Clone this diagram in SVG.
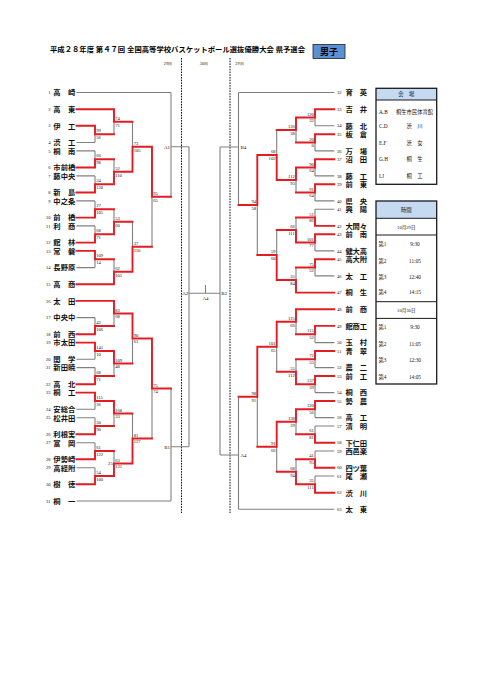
<svg xmlns="http://www.w3.org/2000/svg" width="481" height="680" viewBox="0 0 481 680">
<style>
.g{stroke:#808080;stroke-width:1.1;fill:none}
.r{stroke:#e31b23;stroke-width:1.9;fill:none;stroke-linecap:square}
.d{stroke:#111;stroke-width:1;stroke-dasharray:1.6 1.1;fill:none}
.s{font-family:"Liberation Serif",serif;font-size:4.6px;fill:#111}
.se{font-family:"Liberation Serif",serif;font-size:4.6px;fill:#111;text-anchor:end}
.nm{font-family:"Liberation Serif","Noto Sans CJK JP",serif;font-size:7.3px;font-weight:bold;fill:#111}
.lb{font-family:"Liberation Serif",serif;font-size:5px;fill:#111}
.tb{font-family:"Liberation Serif","Noto Sans CJK JP",serif;font-size:5.3px;fill:#111}
.tbm{font-family:"Liberation Serif","Noto Sans CJK JP",serif;font-size:5.3px;fill:#111;text-anchor:middle}
</style>
<rect width="481" height="680" fill="#fff"/>
<g id="title">
<text x="50" y="51.5" textLength="255" lengthAdjust="spacingAndGlyphs" style="font-family:'Liberation Serif','Noto Sans CJK JP',serif;font-size:7.2px;font-weight:bold">平成２８年度 第４７回 全国高等学校バスケットボール選抜優勝大会 県予選会</text>
<rect x="313" y="44.5" width="32" height="14" fill="#5b8fd6" stroke="#222" stroke-width="0.8"/>
<text x="329" y="55" text-anchor="middle" style="font-family:'Liberation Serif','Noto Sans CJK JP',serif;font-size:9px;font-weight:bold">男子</text>
<text x="168" y="65" text-anchor="middle" class="s" style="font-size:4.3px">29日</text>
<text x="204" y="65" text-anchor="middle" class="s" style="font-size:4.3px">30日</text>
<text x="239.5" y="65" text-anchor="middle" class="s" style="font-size:4.3px">29日</text>
</g>
<g id="dividers">
<path class="d" d="M181.5 58V513M230 58V513"/>
</g>
<g id="connectors">
<path class="g" d="M76.5 92.5H171M76.5 142.5H95M76.5 150.9H95M76.5 175.9H95M76.5 200.9H95M76.5 225.9H95M76.5 267.6H95M76.5 317.6H95M76.5 359.3H95M76.5 367.6H95M76.5 409.3H95M76.5 417.7H95M76.5 442.7H95M76.5 467.7H95M76.5 501H171
M95 134.2V142.5M95 150.9V159.2M95 175.9V184.2M95 200.9V209.3M95 225.9V234.3M95 259.3V267.6M95 317.6V326M95 351V359.3M95 367.6V376M95 401V409.3M95 417.7V426M95 442.7V451M95 467.7V476
M114 121.7V134.2M114 159.2V171.7M114 209.3V221.8M114 259.3V271.8M114 313.5V326M114 363.5V376M114 413.5V426M114 451V463.5
M132.5 121.7V146.7M132.5 221.8V246.8M132.5 338.5V363.5M132.5 413.5V438.5
M152 196.7V246.8M152 388.5V438.5
M171 92.5V196.7M171 146.7H189M171 388.5V501M171 446.7H189M189 146.7V446.7M189 293.3H220M205.5 285V293.3"/>
<path class="g" d="M334.3 92.5H238.5M334.3 125.8H315M334.3 150.9H315M334.3 175.9H315M334.3 200.9H315M334.3 209.2H315M334.3 250.9H315M334.3 275.9H315M334.3 342.6H315M334.3 367.6H315M334.3 392.6H315M334.3 417.6H315M334.3 426H315M334.3 451H315M334.3 476H315M334.3 509.3H238.5
M315 117.5V125.8M315 142.5V150.9M315 167.5V175.9M315 192.5V200.9M315 209.2V217.5M315 242.5V250.9M315 267.5V275.9M315 334.2V342.6M315 359.3V367.6M315 384.3V392.6M315 409.3V417.6M315 426V434.3M315 451V459.3M315 476V484.3
M296 130V142.5M296 180V192.5M296 217.5V230M296 267.5V280M296 321.8V334.2M296 359.3V371.8M296 421.8V434.3M296 459.3V471.8
M276.7 130V155M276.7 230V255M276.7 346.8V371.8M276.7 446.8V471.8
M257.3 205V255M257.3 396.8V446.8
M238.5 92.5V205M238.5 147H220M238.5 396.8V509.3M238.5 455H220M220 147V455"/>
<path class="r" d="M76.5 109.2H114V121.7H132.5M76.5 125.8H95V134.2H114M76.5 167.5H95V159.2H114M76.5 192.5H95V184.2H114M114 184.2V171.7H132.5M132.5 171.7V146.7H152M152 146.7V196.7H171
M76.5 217.6H95V209.3H114M76.5 242.6H95V234.3H114M114 234.3V221.8H132.5M76.5 250.9H95V259.3H114M76.5 284.3H114V271.8H132.5M132.5 271.8V246.8H152
M76.5 300.9H114V313.5H132.5M76.5 334.3H95V326H114M76.5 342.6H95V351H114M76.5 384.3H95V376H114M114 351V363.5H132.5M132.5 313.5V338.5H152M152 338.5V388.5H171
M76.5 392.6H95V401H114M76.5 434.3H95V426H114M114 401V413.5H132.5M76.5 459.3H95V451H114M76.5 484.3H95V476H114M114 476V463.5H132.5M132.5 463.5V438.5H152"/>
<path class="r" d="M334.3 109.2H315V117.5H296M334.3 134.2H315V142.5H296M296 117.5V130H276.7M334.3 159.2H315V167.5H296M334.3 184.2H315V192.5H296M296 167.5V180H276.7M276.7 180V155H257.3M257.3 155V205H238.5
M334.3 225.9H315V217.5H296M334.3 234.2H315V242.5H296M296 242.5V230H276.7M334.3 259.2H315V267.5H296M334.3 292.6H296V280H276.7M276.7 280V255H257.3
M334.3 309.3H296V321.8H276.7M334.3 325.9H315V334.2H296M334.3 351H315V359.3H296M334.3 376H315V384.3H296M296 384.3V371.8H276.7M276.7 321.8V346.8H257.3M257.3 346.8V396.8H238.5
M334.3 401H315V409.3H296M334.3 442.7H315V434.3H296M296 409.3V421.8H276.7M334.3 467.7H315V459.3H296M334.3 492.7H315V484.3H296M296 484.3V471.8H276.7M276.7 421.8V446.8H257.3"/>
</g>
<g id="game-labels">
<text class="lb" x="170" y="148.5" text-anchor="end">A1</text>
<text class="lb" x="170" y="448.5" text-anchor="end">B1</text>
<text class="lb" x="188.3" y="295" text-anchor="end">A2</text>
<text class="lb" x="221.3" y="295">B2</text>
<text class="lb" x="205.5" y="299.5" text-anchor="middle">A4</text>
<text class="lb" x="240.5" y="148.8">B4</text>
<text class="lb" x="240.5" y="456.8">A4</text>
<text class="se" x="112.7" y="465">25</text>
</g>
<g id="scores-left">
<text class="s" x="96.2" y="132.3">99</text><text class="s" x="96.2" y="139">56</text>
<text class="s" x="96.2" y="157.3">66</text><text class="s" x="96.2" y="164">98</text>
<text class="s" x="96.2" y="182.3">34</text><text class="s" x="96.2" y="189">120</text>
<text class="s" x="96.2" y="207.4">27</text><text class="s" x="96.2" y="214.1">105</text>
<text class="s" x="96.2" y="232.4">68</text><text class="s" x="96.2" y="239.1">71</text>
<text class="s" x="96.2" y="257.4">109</text><text class="s" x="96.2" y="264.1">14</text>
<text class="s" x="96.2" y="324.1">42</text><text class="s" x="96.2" y="330.8">106</text>
<text class="s" x="96.2" y="349.1">141</text><text class="s" x="96.2" y="355.8">10</text>
<text class="s" x="96.2" y="374.1">68</text><text class="s" x="96.2" y="380.8">71</text>
<text class="s" x="96.2" y="399.1">115</text><text class="s" x="96.2" y="405.8">36</text>
<text class="s" x="96.2" y="424.1">50</text><text class="s" x="96.2" y="430.8">90</text>
<text class="s" x="96.2" y="449.1">61</text><text class="s" x="96.2" y="455.8">122</text>
<text class="s" x="96.2" y="474.1">54</text><text class="s" x="96.2" y="480.8">100</text>
<text class="s" x="115.2" y="119.8">74</text><text class="s" x="115.2" y="126.5">71</text>
<text class="s" x="115.2" y="169.8">52</text><text class="s" x="115.2" y="176.5">110</text>
<text class="s" x="115.2" y="219.9">53</text><text class="s" x="115.2" y="226.6">60</text>
<text class="s" x="115.2" y="269.9">62</text><text class="s" x="115.2" y="276.6">101</text>
<text class="s" x="115.2" y="311.6">83</text><text class="s" x="115.2" y="318.3">68</text>
<text class="s" x="115.2" y="361.6">109</text><text class="s" x="115.2" y="368.3">48</text>
<text class="s" x="115.2" y="411.6">168</text><text class="s" x="115.2" y="418.3">33</text>
<text class="s" x="115.2" y="461.6">63</text><text class="s" x="115.2" y="468.3">131</text>
<text class="s" x="133.7" y="144.8">73</text><text class="s" x="133.7" y="151.5">105</text>
<text class="s" x="133.7" y="244.9">37</text><text class="s" x="133.7" y="251.6">110</text>
<text class="s" x="133.7" y="336.6">90</text><text class="s" x="133.7" y="343.3">61</text>
<text class="s" x="133.7" y="436.6">81</text><text class="s" x="133.7" y="443.3">127</text>
<text class="s" x="153.2" y="194.8">95</text><text class="s" x="153.2" y="201.5">65</text>
<text class="s" x="153.2" y="386.6">75</text><text class="s" x="153.2" y="393.3">74</text>
</g>
<g id="scores-right">
<text class="se" x="313.8" y="115.6">120</text><text class="se" x="313.8" y="122.3">32</text>
<text class="se" x="313.8" y="140.6">20</text><text class="se" x="313.8" y="147.3">0</text>
<text class="se" x="313.8" y="165.6">90</text><text class="se" x="313.8" y="172.3">64</text>
<text class="se" x="313.8" y="190.6">91</text><text class="se" x="313.8" y="197.3">64</text>
<text class="se" x="313.8" y="215.6">51</text><text class="se" x="313.8" y="222.3">86</text>
<text class="se" x="313.8" y="240.6">101</text><text class="se" x="313.8" y="247.3">77</text>
<text class="se" x="313.8" y="265.6">75</text><text class="se" x="313.8" y="272.3">52</text>
<text class="se" x="313.8" y="332.3">115</text><text class="se" x="313.8" y="339">52</text>
<text class="se" x="313.8" y="357.4">72</text><text class="se" x="313.8" y="364.1">55</text>
<text class="se" x="313.8" y="382.4">137</text><text class="se" x="313.8" y="389.1">39</text>
<text class="se" x="313.8" y="407.4">120</text><text class="se" x="313.8" y="414.1">56</text>
<text class="se" x="313.8" y="432.4">61</text><text class="se" x="313.8" y="439.1">81</text>
<text class="se" x="313.8" y="457.4">41</text><text class="se" x="313.8" y="464.1">95</text>
<text class="se" x="313.8" y="482.4">35</text><text class="se" x="313.8" y="489.1">111</text>
<text class="se" x="294.8" y="128.1">136</text><text class="se" x="294.8" y="134.8">38</text>
<text class="se" x="294.8" y="178.1">112</text><text class="se" x="294.8" y="184.8">93</text>
<text class="se" x="294.8" y="228.1">66</text><text class="se" x="294.8" y="234.8">111</text>
<text class="se" x="294.8" y="278.1">35</text><text class="se" x="294.8" y="284.8">84</text>
<text class="se" x="294.8" y="319.9">125</text><text class="se" x="294.8" y="326.6">66</text>
<text class="se" x="294.8" y="369.9">55</text><text class="se" x="294.8" y="376.6">112</text>
<text class="se" x="294.8" y="419.9">138</text><text class="se" x="294.8" y="426.6">29</text>
<text class="se" x="294.8" y="469.9">68</text><text class="se" x="294.8" y="476.6">94</text>
<text class="se" x="275.5" y="153.1">68</text><text class="se" x="275.5" y="159.8">102</text>
<text class="se" x="275.5" y="253.1">59</text><text class="se" x="275.5" y="259.8">60</text>
<text class="se" x="275.5" y="344.9">101</text><text class="se" x="275.5" y="351.6">65</text>
<text class="se" x="275.5" y="444.9">91</text><text class="se" x="275.5" y="451.6">66</text>
<text class="se" x="256.1" y="203.1">94</text><text class="se" x="256.1" y="209.8">58</text>
<text class="se" x="256.1" y="394.9">98</text><text class="se" x="256.1" y="401.6">91</text>
</g>
<g id="teams-left">
<g id="t1"><text class="se" x="50.5" y="94.1">1</text><text class="nm" x="53.3" y="95.3" textLength="22" lengthAdjust="spacing">高　崎</text></g>
<g id="t2"><text class="se" x="50.5" y="110.8">2</text><text class="nm" x="53.3" y="112" textLength="22" lengthAdjust="spacing">高　東</text></g>
<g id="t3"><text class="se" x="50.5" y="127.4">3</text><text class="nm" x="53.3" y="128.6" textLength="22" lengthAdjust="spacing">伊　工</text></g>
<g id="t4"><text class="se" x="50.5" y="144.1">4</text><text class="nm" x="53.3" y="145.3" textLength="22" lengthAdjust="spacing">渋　工</text></g>
<g id="t5"><text class="se" x="50.5" y="152.5">5</text><text class="nm" x="53.3" y="153.7" textLength="22" lengthAdjust="spacing">桐　南</text></g>
<g id="t6"><text class="se" x="50.5" y="169.1">6</text><text class="nm" x="53.3" y="170.3" textLength="22" lengthAdjust="spacing">市前橋</text></g>
<g id="t7"><text class="se" x="50.5" y="177.5">7</text><text class="nm" x="53.3" y="178.7" textLength="22" lengthAdjust="spacing">藤中央</text></g>
<g id="t8"><text class="se" x="50.5" y="194.1">8</text><text class="nm" x="53.3" y="195.3" textLength="22" lengthAdjust="spacing">新　島</text></g>
<g id="t9"><text class="se" x="50.5" y="202.5">9</text><text class="nm" x="53.3" y="203.7" textLength="22" lengthAdjust="spacing">中之条</text></g>
<g id="t10"><text class="se" x="50.5" y="219.2">10</text><text class="nm" x="53.3" y="220.4" textLength="22" lengthAdjust="spacing">前　橋</text></g>
<g id="t11"><text class="se" x="50.5" y="227.5">11</text><text class="nm" x="53.3" y="228.7" textLength="22" lengthAdjust="spacing">利　商</text></g>
<g id="t12"><text class="se" x="50.5" y="244.2">12</text><text class="nm" x="53.3" y="245.4" textLength="22" lengthAdjust="spacing">館　林</text></g>
<g id="t13"><text class="se" x="50.5" y="252.5">13</text><text class="nm" x="53.3" y="253.7" textLength="22" lengthAdjust="spacing">常　磐</text></g>
<g id="t14"><text class="se" x="50.5" y="269.2">14</text><text class="nm" x="53.3" y="270.4" textLength="22" lengthAdjust="spacing">長野原</text></g>
<g id="t15"><text class="se" x="50.5" y="285.9">15</text><text class="nm" x="53.3" y="287.1" textLength="22" lengthAdjust="spacing">高　商</text></g>
<g id="t16"><text class="se" x="50.5" y="302.5">16</text><text class="nm" x="53.3" y="303.7" textLength="22" lengthAdjust="spacing">太　田</text></g>
<g id="t17"><text class="se" x="50.5" y="319.2">17</text><text class="nm" x="53.3" y="320.4" textLength="22" lengthAdjust="spacing">中央中</text></g>
<g id="t18"><text class="se" x="50.5" y="335.9">18</text><text class="nm" x="53.3" y="337.1" textLength="22" lengthAdjust="spacing">前　西</text></g>
<g id="t19"><text class="se" x="50.5" y="344.2">19</text><text class="nm" x="53.3" y="345.4" textLength="22" lengthAdjust="spacing">市太田</text></g>
<g id="t20"><text class="se" x="50.5" y="360.9">20</text><text class="nm" x="53.3" y="362.1" textLength="22" lengthAdjust="spacing">関　学</text></g>
<g id="t21"><text class="se" x="50.5" y="369.2">21</text><text class="nm" x="53.3" y="370.4" textLength="22" lengthAdjust="spacing">新田暁</text></g>
<g id="t22"><text class="se" x="50.5" y="385.9">22</text><text class="nm" x="53.3" y="387.1" textLength="22" lengthAdjust="spacing">高　北</text></g>
<g id="t23"><text class="se" x="50.5" y="394.2">23</text><text class="nm" x="53.3" y="395.4" textLength="22" lengthAdjust="spacing">桐　工</text></g>
<g id="t24"><text class="se" x="50.5" y="410.9">24</text><text class="nm" x="53.3" y="412.1" textLength="22" lengthAdjust="spacing">安総合</text></g>
<g id="t25"><text class="se" x="50.5" y="419.3">25</text><text class="nm" x="53.3" y="420.5" textLength="22" lengthAdjust="spacing">松井田</text></g>
<g id="t26"><text class="se" x="50.5" y="435.9">26</text><text class="nm" x="53.3" y="437.1" textLength="22" lengthAdjust="spacing">利根実</text></g>
<g id="t27"><text class="se" x="50.5" y="444.3">27</text><text class="nm" x="53.3" y="445.5" textLength="22" lengthAdjust="spacing">富　岡</text></g>
<g id="t28"><text class="se" x="50.5" y="460.9">28</text><text class="nm" x="53.3" y="462.1" textLength="22" lengthAdjust="spacing">伊勢崎</text></g>
<g id="t29"><text class="se" x="50.5" y="469.3">29</text><text class="nm" x="53.3" y="470.5" textLength="22" lengthAdjust="spacing">高経附</text></g>
<g id="t30"><text class="se" x="50.5" y="485.9">30</text><text class="nm" x="53.3" y="487.1" textLength="22" lengthAdjust="spacing">樹　徳</text></g>
<g id="t31"><text class="se" x="50.5" y="502.6">31</text><text class="nm" x="53.3" y="503.8" textLength="22" lengthAdjust="spacing">桐　一</text></g>
</g>
<g id="teams-right">
<g id="t32"><text class="s" x="337" y="94.1">32</text><text class="nm" x="345.5" y="95.3" textLength="21.5" lengthAdjust="spacing">育　英</text></g>
<g id="t33"><text class="s" x="337" y="110.8">33</text><text class="nm" x="345.5" y="112" textLength="21.5" lengthAdjust="spacing">吉　井</text></g>
<g id="t34"><text class="s" x="337" y="127.4">34</text><text class="nm" x="345.5" y="128.6" textLength="21.5" lengthAdjust="spacing">藤　北</text></g>
<g id="t35"><text class="s" x="337" y="135.8">35</text><text class="nm" x="345.5" y="137" textLength="21.5" lengthAdjust="spacing">板　倉</text></g>
<g id="t36"><text class="s" x="337" y="152.5">36</text><text class="nm" x="345.5" y="153.7" textLength="21.5" lengthAdjust="spacing">万　場</text></g>
<g id="t37"><text class="s" x="337" y="160.8">37</text><text class="nm" x="345.5" y="162" textLength="21.5" lengthAdjust="spacing">沼　田</text></g>
<g id="t38"><text class="s" x="337" y="177.5">38</text><text class="nm" x="345.5" y="178.7" textLength="21.5" lengthAdjust="spacing">藤　工</text></g>
<g id="t39"><text class="s" x="337" y="185.8">39</text><text class="nm" x="345.5" y="187" textLength="21.5" lengthAdjust="spacing">前　東</text></g>
<g id="t40"><text class="s" x="337" y="202.5">40</text><text class="nm" x="345.5" y="203.7" textLength="21.5" lengthAdjust="spacing">県　央</text></g>
<g id="t41"><text class="s" x="337" y="210.8">41</text><text class="nm" x="345.5" y="212" textLength="21.5" lengthAdjust="spacing">興　陽</text></g>
<g id="t42"><text class="s" x="337" y="227.5">42</text><text class="nm" x="345.5" y="228.7" textLength="21.5" lengthAdjust="spacing">大間々</text></g>
<g id="t43"><text class="s" x="337" y="235.8">43</text><text class="nm" x="345.5" y="237" textLength="21.5" lengthAdjust="spacing">前　南</text></g>
<g id="t44"><text class="s" x="337" y="252.5">44</text><text class="nm" x="345.5" y="253.7" textLength="21.5" lengthAdjust="spacing">健大高</text></g>
<g id="t45"><text class="s" x="337" y="260.8">45</text><text class="nm" x="345.5" y="262" textLength="21.5" lengthAdjust="spacing">高大附</text></g>
<g id="t46"><text class="s" x="337" y="277.5">46</text><text class="nm" x="345.5" y="278.7" textLength="21.5" lengthAdjust="spacing">太　工</text></g>
<g id="t47"><text class="s" x="337" y="294.2">47</text><text class="nm" x="345.5" y="295.4" textLength="21.5" lengthAdjust="spacing">桐　生</text></g>
<g id="t48"><text class="s" x="337" y="310.9">48</text><text class="nm" x="345.5" y="312.1" textLength="21.5" lengthAdjust="spacing">前　商</text></g>
<g id="t49"><text class="s" x="337" y="327.5">49</text><text class="nm" x="345.5" y="328.7" textLength="21.5" lengthAdjust="spacing">館商工</text></g>
<g id="t50"><text class="s" x="337" y="344.2">50</text><text class="nm" x="345.5" y="345.4" textLength="21.5" lengthAdjust="spacing">玉　村</text></g>
<g id="t51"><text class="s" x="337" y="352.6">51</text><text class="nm" x="345.5" y="353.8" textLength="21.5" lengthAdjust="spacing">青　翠</text></g>
<g id="t52"><text class="s" x="337" y="369.2">52</text><text class="nm" x="345.5" y="370.4" textLength="21.5" lengthAdjust="spacing">農　二</text></g>
<g id="t53"><text class="s" x="337" y="377.6">53</text><text class="nm" x="345.5" y="378.8" textLength="21.5" lengthAdjust="spacing">前　工</text></g>
<g id="t54"><text class="s" x="337" y="394.2">54</text><text class="nm" x="345.5" y="395.4" textLength="21.5" lengthAdjust="spacing">桐　西</text></g>
<g id="t55"><text class="s" x="337" y="402.6">55</text><text class="nm" x="345.5" y="403.8" textLength="21.5" lengthAdjust="spacing">勢　農</text></g>
<g id="t56"><text class="s" x="337" y="419.2">56</text><text class="nm" x="345.5" y="420.4" textLength="21.5" lengthAdjust="spacing">高　工</text></g>
<g id="t57"><text class="s" x="337" y="427.6">57</text><text class="nm" x="345.5" y="428.8" textLength="21.5" lengthAdjust="spacing">清　明</text></g>
<g id="t58"><text class="s" x="337" y="444.3">58</text><text class="nm" x="345.5" y="445.5" textLength="21.5" lengthAdjust="spacing">下仁田</text></g>
<g id="t59"><text class="s" x="337" y="452.6">59</text><text class="nm" x="345.5" y="453.8" textLength="21.5" lengthAdjust="spacing">西邑楽</text></g>
<g id="t60"><text class="s" x="337" y="469.3">60</text><text class="nm" x="345.5" y="470.5" textLength="21.5" lengthAdjust="spacing">四ツ葉</text></g>
<g id="t61"><text class="s" x="337" y="477.6">61</text><text class="nm" x="345.5" y="478.8" textLength="21.5" lengthAdjust="spacing">尾　瀬</text></g>
<g id="t62"><text class="s" x="337" y="494.3">62</text><text class="nm" x="345.5" y="495.5" textLength="21.5" lengthAdjust="spacing">渋　川</text></g>
<g id="t63"><text class="s" x="337" y="510.9">63</text><text class="nm" x="345.5" y="512.1" textLength="21.5" lengthAdjust="spacing">太　東</text></g>
</g>
<g id="venue-table">
<rect x="376" y="88.3" width="60.7" height="11.7" fill="#c5d9f1"/>
<rect x="376" y="88.3" width="60.7" height="96" fill="none" stroke="#1a1a1a" stroke-width="1.3"/>
<path d="M376 100H436.7" stroke="#1a1a1a" stroke-width="1"/>
<text class="tbm" x="406.3" y="96.1">会　場</text>
<text class="tb" x="379" y="113.6">A.B</text><text class="tbm" x="414.5" y="113.6">桐生市民体育館</text>
<text class="tb" x="379" y="127.6">C.D</text><text class="tbm" x="414.5" y="127.6">渋　川</text>
<text class="tb" x="379" y="144.6">E.F</text><text class="tbm" x="414.5" y="144.6">渋　女</text>
<text class="tb" x="379" y="161.2">G.H</text><text class="tbm" x="414.5" y="161.2">桐　生</text>
<text class="tb" x="379" y="177.9">I.J</text><text class="tbm" x="414.5" y="177.9">桐　工</text>
</g>
<g id="time-table">
<rect x="376" y="201" width="60.7" height="17.3" fill="#c5d9f1"/>
<rect x="376" y="201" width="60.7" height="183" fill="none" stroke="#1a1a1a" stroke-width="1.3"/>
<path d="M376 218.3H436.7M376 235H436.7M376 301.7H436.7M376 318.4H436.7" stroke="#1a1a1a" stroke-width="1"/>
<text class="tbm" x="406.3" y="211.5">時間</text>
<text class="tbm" x="406.3" y="228.7" style="font-size:4.6px">10月29日</text>
<text class="tb" x="378.5" y="246">第1</text><text class="tbm" x="415" y="246">9:30</text>
<text class="tb" x="378.5" y="262.6">第2</text><text class="tbm" x="415" y="262.6">11:05</text>
<text class="tb" x="378.5" y="279.2">第3</text><text class="tbm" x="415" y="279.2">12:40</text>
<text class="tb" x="378.5" y="294.2">第4</text><text class="tbm" x="415" y="294.2">14:15</text>
<text class="tbm" x="406.3" y="311.8" style="font-size:4.6px">10月30日</text>
<text class="tb" x="378.5" y="329">第1</text><text class="tbm" x="415" y="329">9:30</text>
<text class="tb" x="378.5" y="345.6">第2</text><text class="tbm" x="415" y="345.6">11:05</text>
<text class="tb" x="378.5" y="362.2">第3</text><text class="tbm" x="415" y="362.2">12:30</text>
<text class="tb" x="378.5" y="378.8">第4</text><text class="tbm" x="415" y="378.8">14:05</text>
</g>
</svg>
